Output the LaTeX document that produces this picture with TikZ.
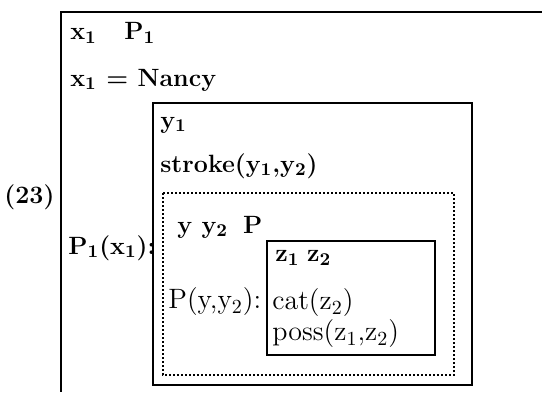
\documentclass[tikz,border=0pt]{standalone}
\usepackage{tikz}

\begin{document}
\begin{tikzpicture}[x=0.5pt,y=-0.5pt,
  box/.style={line width=1pt},
  dotbox/.style={line width=1pt,dash pattern=on 1pt off 1pt},
  bold/.style={anchor=west,inner sep=0pt,font=\fontsize{12.5}{15}\selectfont\bfseries\boldmath},
  thin/.style={anchor=west,inner sep=0pt,font=\fontsize{14}{16}\selectfont}]
  \useasboundingbox (0,0) rectangle (542,392);
  \draw[box] (542,12) -- (61,12) -- (61,392);
  \draw[box] (153,103) rectangle (472,385);
  \draw[dotbox] (163,193) rectangle (454,375);
  \draw[box] (267,241) rectangle (435,355);
  \node[bold] (num) at (4,197) {(23)};
  \node[bold] (refs) at (70,33) {x$_1$\hspace{1.1em}P$_1$};
  \node[bold] (nancy) at (70,80) {x$_1$ = Nancy};
  \node[bold] (pred) at (68,248) {P$_1$(x$_1$):};
  \node[bold] (yref) at (160,125) {y$_1$};
  \node[bold] (stroke) at (160,166) {stroke(y$_1$,y$_2$)};
  \node[bold] (yyp) at (177,227) {y y$_2$\hspace{0.6em}P};
  \node[thin] (pyy) at (168,302) {P(y,y$_2$):};
  \node[bold] (zz) at (275,258) {z$_1$\hspace{0.3em}z$_2$};
  \node[thin] (cat) at (272,303) {cat(z$_2$)};
  \node[thin] (poss) at (272,334) {poss(z$_1$,z$_2$)};
\end{tikzpicture}
\end{document}
